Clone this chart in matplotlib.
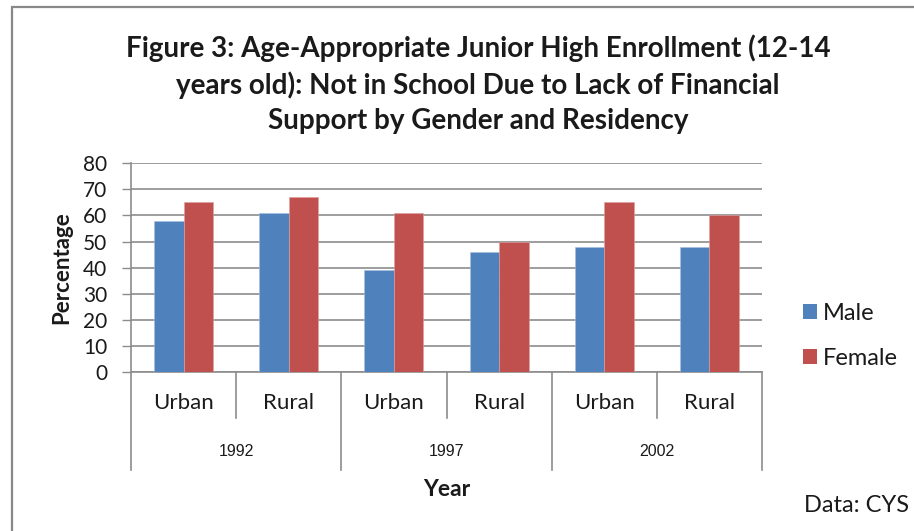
import matplotlib
matplotlib.use("Agg")
import matplotlib.pyplot as plt
import matplotlib.transforms as mtransforms
from matplotlib.patches import Rectangle, Patch
import numpy as np

# Data
years = ["1992", "1997", "2002"]
residency = ["Urban", "Rural"]
male = [58, 61, 39, 46, 48, 48]
female = [65, 67, 61, 50, 65, 60]
series_names = ["Male", "Female"]
y_ticks = [0, 10, 20, 30, 40, 50, 60, 70, 80]

BLUE = "#4F81BD"
RED = "#C0504D"
GRID = "#8C8C8C"
TXT = "#1a1a1a"

W, H = 914, 531
fig = plt.figure(figsize=(W / 100, H / 100), dpi=100)
fig.patch.set_facecolor("white")

# chart frame (extends past the right/bottom edges)
fig.add_artist(Rectangle((11.5 / W, -0.1), 1.2, 1 - 7 / H + 0.1,
                         transform=fig.transFigure, fill=False,
                         edgecolor="#888888", linewidth=1.6))

ax = fig.add_axes([131 / W, 1 - 372 / H, (762 - 131) / W, (372 - 163.3) / H])

n = len(male)
x = np.arange(n) + 0.5
bw = 0.28
ax.bar(x - bw / 2, male, bw, color=BLUE, edgecolor="#A7BFDE", linewidth=0.4, zorder=3)
ax.bar(x + bw / 2, female, bw, color=RED, edgecolor="#DDA0A0", linewidth=0.4, zorder=3)

ax.set_xlim(0, n)
ax.set_ylim(0, 80)
ax.set_yticks(y_ticks)
ax.set_yticklabels([str(t) for t in y_ticks], fontsize=15, family="Lato", color=TXT)
ax.tick_params(axis="y", length=6.5, width=1, color=GRID, pad=10.5)
ax.set_xticks([])
ax.grid(axis="y", color=GRID, linewidth=1.2, zorder=0)
for side in ["top", "right"]:
    ax.spines[side].set_visible(False)
ax.spines["left"].set_color(GRID)
ax.spines["bottom"].set_color(GRID)
ax.spines["left"].set_linewidth(1.2)
ax.spines["bottom"].set_linewidth(1.2)

# multi-level category axis
trans = mtransforms.blended_transform_factory(ax.transData, ax.transAxes)
axh = 372 - 163.3
for b in range(n + 1):
    depth = 98 if b % 2 == 0 else 46
    ax.plot([b, b], [0, -depth / axh], transform=trans, color=GRID,
            linewidth=1.2, clip_on=False)
for i in range(n):
    ax.text(i + 0.5, -31 / axh, residency[i % 2], transform=trans,
            ha="center", va="center", fontsize=16, family="Lato", color=TXT)
for j, yr in enumerate(years):
    ax.text(2 * j + 1, -79 / axh, yr, transform=trans, ha="center", va="center",
            fontsize=11.5, family="Liberation Sans", color=TXT)
ax.text(3, -118 / axh, "Year", transform=trans, ha="center", va="center",
        fontsize=16.5, family="Lato", fontweight="bold", color=TXT)

ax.set_ylabel("Percentage", fontsize=16, family="Lato", fontweight="bold", color=TXT)
ax.yaxis.set_label_coords((72 - 131) / (762 - 131), 0.5)

# title
title_lines = ["Figure 3: Age-Appropriate Junior High Enrollment (12-14",
               "years old): Not in School Due to Lack of Financial",
               "Support by Gender and Residency"]
for line, yy in zip(title_lines, [48, 85, 121]):
    fig.text(478 / W, 1 - yy / H, line, ha="center", va="center", fontsize=20,
             family="Lato", fontweight="bold", color=TXT)

# legend
handles = [Patch(facecolor=BLUE, edgecolor="none"), Patch(facecolor=RED, edgecolor="none")]
fig.legend(handles, series_names, loc="upper left", bbox_to_anchor=(782 / W, 1 - 282 / H),
           frameon=False, prop={"family": "Lato", "size": 17}, handlelength=0.6,
           handleheight=0.6, handletextpad=0.25, labelspacing=1.0, labelcolor=TXT)

fig.text(909 / W, 1 - 505 / H, "Data: CYS", ha="right", va="center", fontsize=17,
         family="Lato", color=TXT)

fig.savefig("out.png", dpi=100)
